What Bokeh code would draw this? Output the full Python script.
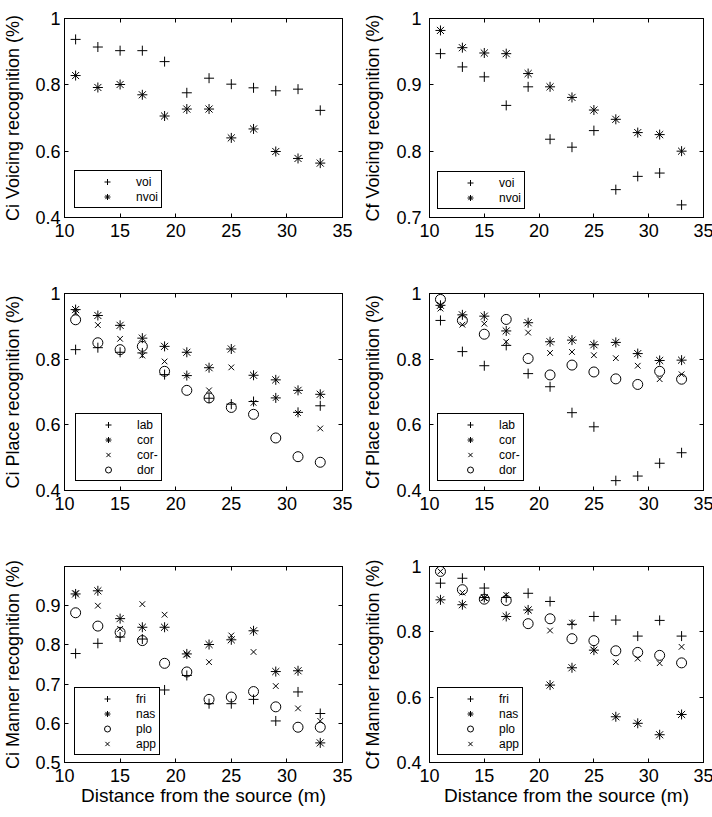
from bokeh.plotting import figure
from bokeh.layouts import column, row
from bokeh.models import (FixedTicker, NumeralTickFormatter, LinearAxis, Legend,
                          LegendItem, Range1d, CustomJSTickFormatter)
from bokeh.embed import file_html
from bokeh.resources import INLINE

# ---------------- data ----------------
distance = [11, 13, 15, 17, 19, 21, 23, 25, 27, 29, 31, 33]
x_ticks = [10, 15, 20, 25, 30, 35]

ci_voi = [0.937, 0.914, 0.903, 0.903, 0.870, 0.776, 0.820, 0.802, 0.791, 0.782, 0.787, 0.723]
ci_nvoi = [0.828, 0.792, 0.801, 0.770, 0.706, 0.727, 0.727, 0.640, 0.667, 0.599, 0.578, 0.564]

cf_voi = [0.947, 0.927, 0.912, 0.869, 0.897, 0.818, 0.806, 0.831, 0.742, 0.762, 0.767, 0.719]
cf_nvoi = [0.982, 0.956, 0.948, 0.947, 0.917, 0.897, 0.881, 0.862, 0.848, 0.828, 0.825, 0.800]

ci_lab = [0.829, 0.835, 0.821, 0.819, 0.753, 0.750, 0.681, 0.663, 0.671, 0.682, 0.638, 0.658]
ci_cor = [0.951, 0.933, 0.903, 0.864, 0.839, 0.821, 0.774, 0.831, 0.751, 0.737, 0.705, 0.693]
ci_cor_minus = [0.941, 0.904, 0.862, 0.811, 0.793, 0.750, 0.705, 0.775, 0.667, 0.682, 0.636, 0.589]
ci_dor = [0.920, 0.850, 0.829, 0.839, 0.763, 0.705, 0.682, 0.653, 0.632, 0.560, 0.503, 0.486]

cf_lab = [0.918, 0.823, 0.780, 0.842, 0.756, 0.716, 0.637, 0.594, 0.430, 0.444, 0.483, 0.515]
cf_cor = [0.964, 0.935, 0.931, 0.886, 0.911, 0.853, 0.858, 0.844, 0.851, 0.817, 0.796, 0.797]
cf_cor_minus = [0.954, 0.905, 0.908, 0.853, 0.881, 0.819, 0.822, 0.812, 0.803, 0.780, 0.739, 0.754]
cf_dor = [0.982, 0.918, 0.876, 0.921, 0.802, 0.752, 0.782, 0.761, 0.740, 0.723, 0.763, 0.739]

ci_fri = [0.778, 0.804, 0.820, 0.815, 0.685, 0.722, 0.650, 0.650, 0.661, 0.606, 0.680, 0.625]
ci_nas = [0.930, 0.938, 0.867, 0.845, 0.845, 0.777, 0.801, 0.813, 0.836, 0.732, 0.734, 0.550]
ci_plo = [0.882, 0.848, 0.832, 0.811, 0.753, 0.731, 0.661, 0.667, 0.681, 0.642, 0.590, 0.590]
ci_app = [0.932, 0.900, 0.841, 0.904, 0.877, 0.775, 0.756, 0.824, 0.782, 0.695, 0.638, 0.606]

cf_fri = [0.949, 0.964, 0.934, 0.905, 0.918, 0.893, 0.823, 0.847, 0.836, 0.787, 0.835, 0.787]
cf_nas = [0.898, 0.883, 0.905, 0.847, 0.867, 0.637, 0.690, 0.744, 0.540, 0.520, 0.485, 0.547]
cf_plo = [0.985, 0.929, 0.900, 0.896, 0.825, 0.840, 0.779, 0.773, 0.742, 0.737, 0.728, 0.705]
cf_app = [0.985, 0.920, 0.903, 0.913, 0.867, 0.804, 0.828, 0.744, 0.707, 0.718, 0.704, 0.754]

y_ticks_04 = [0.4, 0.6, 0.8, 1.0]
y_ticks_07 = [0.7, 0.8, 0.9, 1.0]
y_ticks_05 = [0.5, 0.6, 0.7, 0.8, 0.9]

# ---------------- style ----------------
FONT = "Liberation Sans"
MARKERS = {"+": ("cross", 10), "*": ("asterisk", 10), "x": ("x", 8), "o": ("circle", 10)}

COLS = [dict(frame_width=278, border_left=61, border_right=18, tick_standoff=4, label_standoff=9),
        dict(frame_width=274, border_left=67, border_right=12, tick_standoff=8, label_standoff=10)]
ROWS = [dict(frame_height=199, border_top=18, border_bottom=66),
        dict(frame_height=197, border_top=10, border_bottom=66),
        dict(frame_height=196, border_top=10, border_bottom=50)]


def style_axis(ax, ticks, fmt, standoff, font_size="18px"):
    ax.ticker = FixedTicker(ticks=ticks)
    ax.formatter = fmt
    ax.major_tick_in = 4
    ax.major_tick_out = 0
    ax.minor_tick_line_color = None
    ax.axis_line_color = "black"
    ax.major_tick_line_color = "black"
    ax.major_label_text_font = FONT
    ax.major_label_text_font_size = font_size
    ax.major_label_text_color = "black"
    ax.major_label_standoff = standoff


def panel(ri, ci, ylabel, y_range, y_ticks, series, legend_offset, xlabel=None):
    c = COLS[ci]
    r = ROWS[ri]
    p = figure(frame_width=c["frame_width"], frame_height=r["frame_height"],
               x_range=Range1d(10, 35), y_range=Range1d(*y_range),
               min_border_left=c["border_left"], min_border_right=c["border_right"],
               min_border_top=r["border_top"], min_border_bottom=r["border_bottom"],
               output_backend="svg", toolbar_location=None,
               background_fill_color="white", border_fill_color="white")
    p.grid.visible = False
    p.outline_line_color = "black"
    p.outline_line_width = 1
    p.outline_line_alpha = 1.0

    fmt = NumeralTickFormatter(format="0.[0]")
    style_axis(p.xaxis[0], x_ticks, NumeralTickFormatter(format="0"), 6)
    style_axis(p.yaxis[0], y_ticks, fmt, c["tick_standoff"])
    p.yaxis[0].axis_label = ylabel
    p.yaxis[0].axis_label_text_font = FONT
    p.yaxis[0].axis_label_text_font_size = "18px"
    p.yaxis[0].axis_label_text_font_style = "normal"
    p.yaxis[0].axis_label_text_color = "black"
    p.yaxis[0].axis_label_standoff = c["label_standoff"]
    if xlabel:
        p.xaxis[0].axis_label = xlabel
        p.xaxis[0].axis_label_text_font = FONT
        p.xaxis[0].axis_label_text_font_size = "19px"
        p.xaxis[0].axis_label_text_font_style = "normal"
        p.xaxis[0].axis_label_text_color = "black"
        p.xaxis[0].axis_label_standoff = 0

    # box ticks on top and right (no labels)
    blank = CustomJSTickFormatter(code="return ''")
    top = LinearAxis()
    style_axis(top, x_ticks, blank, 0, "0px")
    right = LinearAxis()
    style_axis(right, y_ticks, blank, 0, "0px")
    p.add_layout(top, "above")
    p.add_layout(right, "right")

    items = []
    for label, sym, vals in series:
        mk, sz = MARKERS[sym]
        rr = p.scatter(distance, vals, marker=mk, size=sz, line_color="black",
                       line_width=1, fill_color=None)
        items.append(LegendItem(label=label, renderers=[rr]))
    leg = Legend(items=items, location=legend_offset, padding=3, spacing=0,
                 glyph_width=58, glyph_height=15, label_height=15,
                 label_standoff=0, label_width=20,
                 label_text_font=FONT, label_text_font_size="12px",
                 label_text_color="black",
                 border_line_color="black", border_line_width=1, border_line_alpha=1.0,
                 background_fill_color="white", background_fill_alpha=1.0, margin=0)
    p.add_layout(leg)
    return p


p1 = panel(0, 0, "Ci Voicing recognition (%)", (0.4, 1.0), y_ticks_04,
           [("voi", "+", ci_voi), ("nvoi", "*", ci_nvoi)], (10, 9))
p2 = panel(0, 1, "Cf Voicing recognition (%)", (0.7, 1.0), y_ticks_07,
           [("voi", "+", cf_voi), ("nvoi", "*", cf_nvoi)], (8, 8))
p3 = panel(1, 0, "Ci Place recognition (%)", (0.4, 1.0), y_ticks_04,
           [("lab", "+", ci_lab), ("cor", "*", ci_cor), ("cor-", "x", ci_cor_minus),
            ("dor", "o", ci_dor)], (11, 9))
p4 = panel(1, 1, "Cf Place recognition (%)", (0.4, 1.0), y_ticks_04,
           [("lab", "+", cf_lab), ("cor", "*", cf_cor), ("cor-", "x", cf_cor_minus),
            ("dor", "o", cf_dor)], (8, 9))
p5 = panel(2, 0, "Ci Manner recognition (%)", (0.5, 1.0), y_ticks_05,
           [("fri", "+", ci_fri), ("nas", "*", ci_nas), ("plo", "o", ci_plo),
            ("app", "x", ci_app)], (10, 7), xlabel="Distance from the source (m)")
p6 = panel(2, 1, "Cf Manner recognition (%)", (0.4, 1.0), y_ticks_04,
           [("fri", "+", cf_fri), ("nas", "*", cf_nas), ("plo", "o", cf_plo),
            ("app", "x", cf_app)], (8, 7), xlabel="Distance from the source (m)")

layout = column(row(p1, p2), row(p3, p4), row(p5, p6))

with open("out.html", "w") as f:
    f.write(file_html(layout, INLINE))
